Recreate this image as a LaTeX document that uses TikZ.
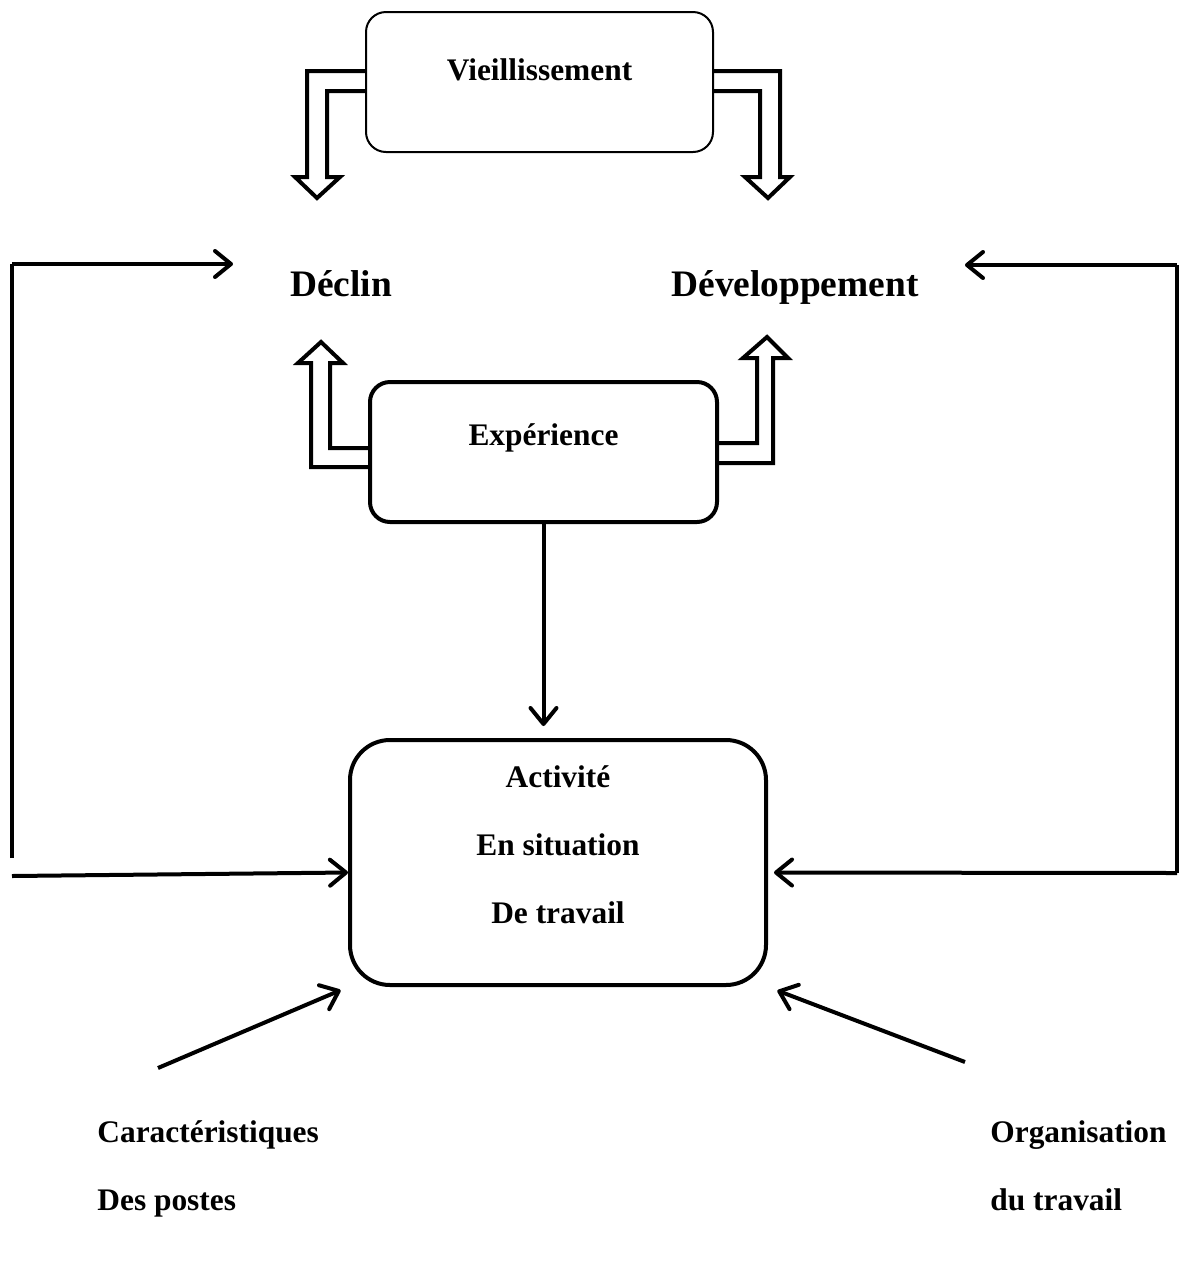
\documentclass[tikz,border=0pt]{standalone}
\usepackage{fontspec}
\setmainfont{Liberation Serif}
\usetikzlibrary{arrows.meta,positioning}

\begin{document}
\begin{tikzpicture}[x=0.5pt,y=-0.5pt,
  every node/.style={font=\bfseries\fontsize{15.7}{19}\selectfont,inner sep=0pt},
  box/.style={draw,rounded corners=10pt,minimum width=173.5pt,minimum height=70pt},
  big/.style={font=\bfseries\fontsize{18.7}{22}\selectfont,anchor=base},
  arr/.style={line width=2pt,-{Straight Barb[length=8pt,width=13pt,round]}},
  hollow/.style={line width=2pt,line join=miter}]
\useasboundingbox (0,0) rectangle (1179,1271);
% boxes
\node[box,line width=1pt] (vieil) at (539.5,82) {};
\node (vieiltxt) at ([yshift=6pt]vieil.center) {Vieillissement};
\node[box,line width=2pt] (exper) at (543.5,452) {};
\node (expertxt) at ([yshift=7pt]exper.center) {Expérience};
\node[box,line width=2pt,rounded corners=20pt,minimum width=208pt,minimum height=122.5pt] (activ) at (558,862.5) {};
\node[align=center] (activtxt) at ([yshift=8.75pt]activ.center) {Activité\\[15pt]En situation\\[15pt]De travail};
% effects
\node[big] (declin) at (341,296) {Déclin};
\node[big] (devel) at (795,296) {Développement};
% factors
\node[anchor=base west] (carac) at (97,1142) {Caractéristiques};
\node[below=34pt of carac.base west,anchor=base west] (postes) {Des postes};
\node[anchor=base west] (organ) at (990,1142) {Organisation};
\node[below=34pt of organ.base west,anchor=base west] (travail) {du travail};
% hollow arrows
\draw[hollow] (366,71) -- (307,71) -- (307,177) -- (295,177) -- (317,198) -- (340,177) -- (327,177) -- (327,91) -- (366,91);
\draw[hollow] (713,71) -- (780,71) -- (780,177) -- (790,177) -- (768,198) -- (745,177) -- (760,177) -- (760,91) -- (713,91);
\draw[hollow] (370,467) -- (311,467) -- (311,363) -- (298,363) -- (321,342) -- (343,363) -- (330,363) -- (330,448) -- (370,448);
\draw[hollow] (717,463) -- (773,463) -- (773,358) -- (788,358) -- (767,337) -- (743,358) -- (757,358) -- (757,443) -- (717,443);
% loops
\coordinate (ltop) at (12,264);
\coordinate (lbot) at (12,858);
\coordinate (lin) at (12,876);
\coordinate (dtip) at (233,264);
\coordinate (rtop) at (1177,265);
\coordinate (rbot) at (1177,873);
\coordinate (vtip) at (965,265);
\draw[line width=2pt] (lbot) -- (ltop);
\draw[arr] (ltop) -- (dtip);
\draw[arr] (lin) -- ([yshift=-5pt]activ.west);
\draw[line width=2pt] (rtop) -- (rbot);
\draw[arr] (rtop) -- (vtip);
\draw[arr,shorten >=3pt] (rbot) -- ([yshift=-5pt]activ.east);
% links
\draw[arr,shorten >=6pt] (exper.south) -- (exper.south |- activ.north);
\coordinate (cstart) at (158,1068);
\coordinate (ostart) at (965,1062);
\draw[arr,shorten >=4pt] (cstart) -- (activ.south west);
\draw[arr,shorten >=5pt] (ostart) -- (activ.south east);
\end{tikzpicture}
\end{document}
